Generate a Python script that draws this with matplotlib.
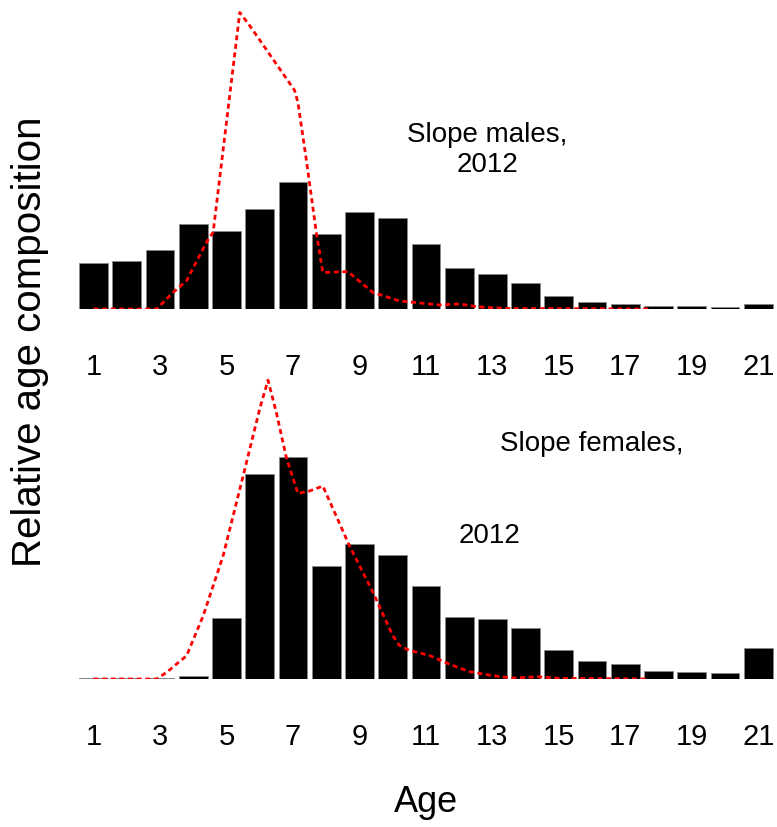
import matplotlib
matplotlib.use("Agg")
import matplotlib.pyplot as plt
import numpy as np

plt.rcParams['font.family'] = ['Liberation Sans', 'DejaVu Sans']

# Age classes and observed relative age composition (2012)
ages = list(range(1, 22))
tick_ages = list(range(1, 22, 2))

males_obs = [0.0452, 0.0474, 0.0586, 0.0843, 0.0774, 0.0988, 0.1252, 0.0738,
             0.0961, 0.0899, 0.0642, 0.0402, 0.0346, 0.0257, 0.0131, 0.0072,
             0.0052, 0.0033, 0.0027, 0.0023, 0.0046]
females_obs = [0.0008, 0.0008, 0.0008, 0.0024, 0.0488, 0.1644, 0.1786, 0.0905,
               0.1087, 0.0998, 0.0749, 0.0500, 0.0482, 0.0410, 0.0235, 0.0142,
               0.0120, 0.0067, 0.0054, 0.0046, 0.0251]

# Model-predicted composition (dashed curves)
males_fit_age = [1.0, 2.9, 3.4, 3.8, 4.4, 4.6, 5.4, 5.7, 7.05, 7.15, 7.4, 7.7,
                 7.9, 8.65, 9.4, 10.2, 11.4, 12.0, 12.6, 13.5, 17.8]
males_fit = [0.0, 0.0, 0.0165, 0.028, 0.066, 0.076, 0.293, 0.280, 0.216, 0.204,
             0.148, 0.076, 0.036, 0.037, 0.0165, 0.008, 0.004, 0.005, 0.002,
             0.0005, 0.0]

females_fit_age = [1.0, 2.9, 3.2, 3.8, 4.3, 4.9, 5.5, 6.0, 6.25, 6.5, 6.8, 7.15,
                   7.5, 7.9, 8.3, 8.7, 9.4, 10.0, 10.2, 10.5, 11.1, 11.7, 12.3,
                   13.0, 13.6, 14.4, 15.0, 17.7]
females_fit = [0.0, 0.0, 0.0054, 0.0187, 0.0508, 0.099, 0.163, 0.217, 0.240,
               0.214, 0.178, 0.149, 0.151, 0.155, 0.131, 0.107, 0.070, 0.035,
               0.027, 0.023, 0.019, 0.012, 0.006, 0.0027, 0.0008, 0.0018,
               0.0006, 0.0]

W, H = 777, 828
fig = plt.figure(figsize=(W / 100, H / 100), dpi=100)


def px_axes(left, right, bottom, top):
    return fig.add_axes([left / W, 1 - bottom / H, (right - left) / W, (bottom - top) / H])


ax_m = px_axes(76.9, 774.9, 310, 310 - 303.6)
ax_f = px_axes(76.9, 774.9, 680, 680 - 311.25)

panels = [
    (ax_m, males_obs, males_fit_age, males_fit, 0.30),
    (ax_f, females_obs, females_fit_age, females_fit, 0.25),
]

for ax, obs, fit_x, fit_y, ymax in panels:
    ax.bar(ages, obs, width=0.865, color='black', edgecolor='#888888', linewidth=0.6)
    ax.plot(fit_x, fit_y, color='red', linestyle=(0, (1.8, 1.3)), linewidth=2)
    ax.set_xlim(0.5, 21.5)
    ax.set_ylim(0, ymax)
    ax.set_xticks(tick_ages)
    ax.set_xticklabels([str(a) for a in tick_ages], fontsize=21)
    ax.tick_params(axis='x', length=0, pad=31)
    ax.set_yticks([])
    for s in ax.spines.values():
        s.set_visible(False)
    ax.patch.set_alpha(0)

# panel labels
fig.text(487 / W, 1 - 172 / H, 'Slope males,\n2012', ha='center', va='baseline',
         fontsize=20, linespacing=1.2)
fig.text(500 / W, 1 - 451 / H, 'Slope females,', ha='left', va='baseline', fontsize=20)
fig.text(489 / W, 1 - 543 / H, '2012', ha='center', va='baseline', fontsize=20)

fig.text(426 / W, 1 - 803 / H, 'Age', ha='center', va='center', fontsize=26)
fig.text(30 / W, 1 - 342 / H, 'Relative age composition', ha='center', va='center',
         rotation=90, fontsize=29)

fig.savefig('out.png', dpi=100)
